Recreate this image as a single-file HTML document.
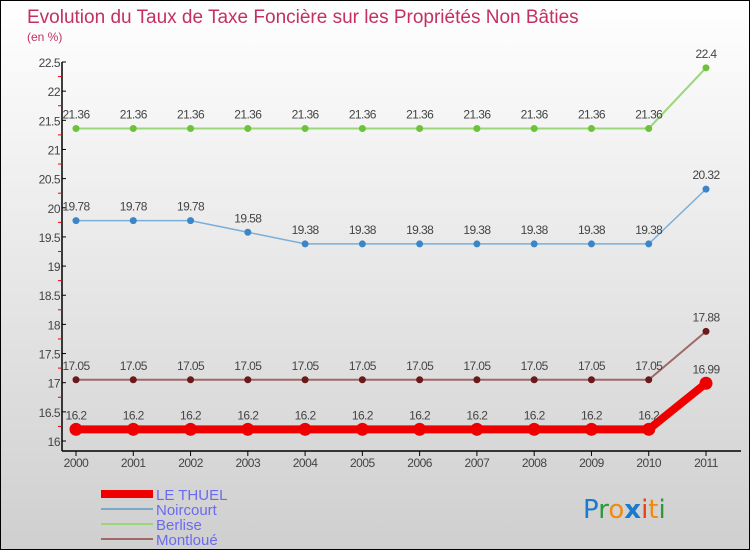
<!DOCTYPE html>
<html><head><meta charset="utf-8">
<style>
html,body{margin:0;padding:0}
body{width:750px;height:550px;overflow:hidden;font-family:"Liberation Sans",sans-serif}
#wrap{position:relative;width:748px;height:548px;border:1px solid #000;background:linear-gradient(#ffffff,#cfcfcf)}
svg{position:absolute;left:0;top:0}
</style></head><body>
<div id="wrap">
<svg id="chart" width="750" height="550">
<text x="26" y="22" font-size="19" fill="#c4305f">Evolution du Taux de Taxe Foncière sur les Propriétés Non Bâties</text>
<text x="26" y="40" font-size="12" fill="#c4305f">(en %)</text>
<g id="axes"></g>
<g id="series"></g>
<g>
<rect x="100" y="489" width="52" height="8" fill="#e00"/>
<text x="155" y="499" font-size="15" fill="#6b6bf0">LE THUEL</text>
<rect x="100" y="507" width="52" height="2" fill="#7aaac8"/>
<text x="155" y="514" font-size="15" fill="#6b6bf0">Noircourt</text>
<rect x="100" y="522" width="52" height="2" fill="#99d77a"/>
<text x="155" y="529" font-size="15" fill="#6b6bf0">Berlise</text>
<rect x="100" y="537" width="52" height="2" fill="#a06868"/>
<text x="155" y="544" font-size="15" fill="#6b6bf0">Montloué</text>
</g>
<g font-size="26" font-family="'DejaVu Sans',sans-serif">
<text x="582" y="517"><tspan fill="#1a7ad0">P</tspan><tspan fill="#2a9a3a">r</tspan><tspan fill="#f08a10">o</tspan><tspan fill="#1a7ad0" font-weight="bold">x</tspan><tspan fill="#e84010">i</tspan><tspan fill="#f08a10">t</tspan><tspan fill="#2a9a3a">i</tspan></text>
</g>
</svg>
</div>
<script>
const years = [2000,2001,2002,2003,2004,2005,2006,2007,2008,2009,2010,2011];
const yTicks = [16,16.5,17,17.5,18,18.5,19,19.5,20,20.5,21,21.5,22,22.5];
const berliseValues = [21.36,21.36,21.36,21.36,21.36,21.36,21.36,21.36,21.36,21.36,21.36,22.4];
const noircourtValues = [19.78,19.78,19.78,19.58,19.38,19.38,19.38,19.38,19.38,19.38,19.38,20.32];
const montloueValues = [17.05,17.05,17.05,17.05,17.05,17.05,17.05,17.05,17.05,17.05,17.05,17.88];
const lethuelValues = [16.2,16.2,16.2,16.2,16.2,16.2,16.2,16.2,16.2,16.2,16.2,16.99];

const NS="http://www.w3.org/2000/svg";
const xs=i=>75+i*(705-75)/(years.length-1);
const ys=v=>440-(v-16)*(440-61)/6.5;
function mk(tag,attrs,parent){const e=document.createElementNS(NS,tag);for(const k in attrs)e.setAttribute(k,attrs[k]);parent.appendChild(e);return e;}
const axes=document.getElementById('axes'), series=document.getElementById('series');
let el;
el=mk('line',{x1:61,y1:61,x2:61,y2:450,stroke:'#000','stroke-width':1.5},axes);


el=mk('line',{x1:61,y1:450,x2:740,y2:450,stroke:'#000','stroke-width':1.5},axes);


yTicks.forEach((t,i)=>{
  const y=ys(t);
  mk('line',{x1:61,y1:y,x2:65,y2:y,stroke:'#000'},axes);
  el=mk('text',{x:59,y:y+5,'font-size':12,'text-anchor':'end',fill:'#444','letter-spacing':'-0.5'},axes);
  el.textContent=t;
  
  
  if(i<yTicks.length-1){const ym=ys(t+0.25);mk('line',{x1:57,y1:ym,x2:61,y2:ym,stroke:'#e00'},axes);}
});
years.forEach((yr,i)=>{
  const x=xs(i);
  mk('line',{x1:x,y1:450,x2:x,y2:455,stroke:'#000'},axes);
  el=mk('text',{x:x,y:466,'font-size':12,'text-anchor':'middle',fill:'#444','letter-spacing':'-0.5'},axes);
  el.textContent=yr;
  
  
});
function draw(vals,name,color,dot,lw,r){
  const g=mk('g',{},series);
  
  
  const pts=vals.map((v,i)=>xs(i)+','+ys(v)).join(' ');
  el=mk('polyline',{points:pts,fill:'none',stroke:color,'stroke-width':lw},g);
  
  
  vals.forEach((v,i)=>{
    el=mk('circle',{cx:xs(i),cy:ys(v),r:r,fill:dot},g);
    
    
    el=mk('text',{x:xs(i),y:ys(v)-10,'font-size':12,'text-anchor':'middle',fill:'#444','letter-spacing':'-0.6'},g);
    el.textContent=v;
    
    
  });
}
draw(berliseValues,'berlise','#99d77a','#6cc23a',2,3.5);
draw(noircourtValues,'noircourt','#7aaed8','#3a86c8',1.5,3.5);
draw(montloueValues,'montloue','#a06868','#6a1a1a',2,3.5);
draw(lethuelValues,'le-thuel','#ee0000','#ee0000',8,6.5);
</script>
</body></html>
